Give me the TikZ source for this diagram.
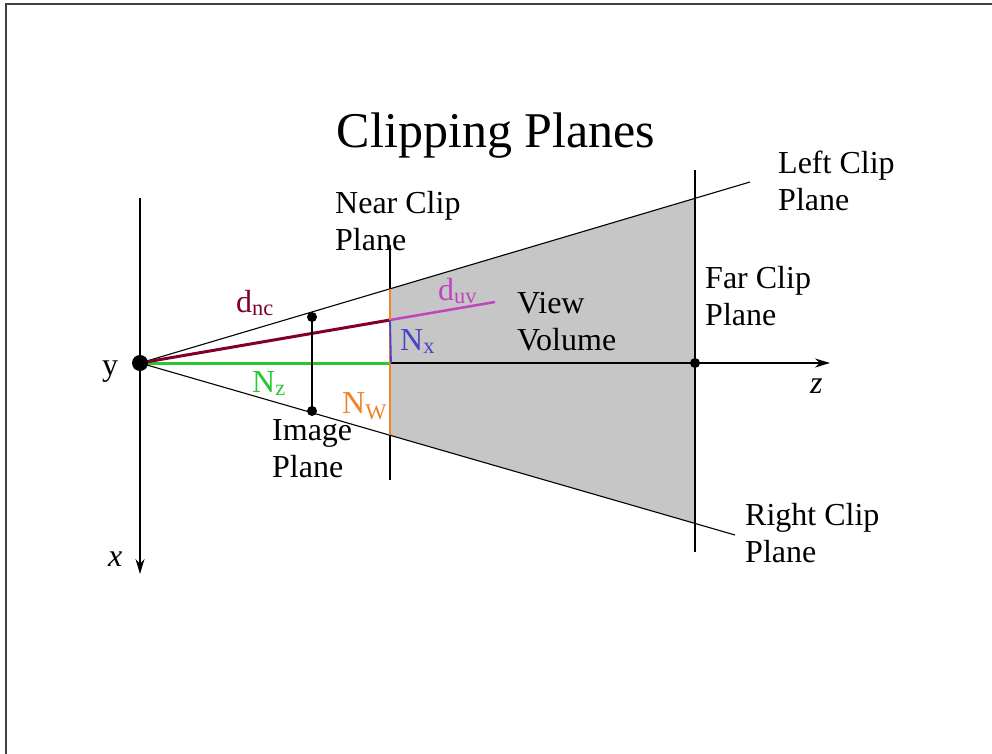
\documentclass[tikz,border=0pt]{standalone}
\usepackage{fontspec}
\setmainfont{Liberation Serif}
\usetikzlibrary{arrows.meta}
\definecolor{dnc}{RGB}{128,0,40}
\definecolor{duv}{RGB}{190,70,190}
\definecolor{nz}{RGB}{40,200,50}
\definecolor{nw}{RGB}{240,130,40}
\definecolor{nx}{RGB}{70,70,200}
\definecolor{vol}{RGB}{198,198,198}
\tikzset{
  lbl/.style={inner sep=0pt, anchor=base west, align=left, font=\fontsize{32}{37}\selectfont},
  sym/.style={inner sep=0pt, anchor=base west, font=\fontsize{32}{37}\selectfont},
  thin line/.style={line width=1.1pt, black},
  axis/.style={line width=1.6pt, black, -{Stealth[length=15pt,width=9pt]}},
  dotc/.style={circle, fill=black, inner sep=0pt, minimum size=10pt}
}
\begin{document}
\begin{tikzpicture}[x=1pt,y=-1pt]
\useasboundingbox (0,0) rectangle (992,754);
% frame
\draw[line width=2pt, black!75] (6,754) -- (6,4) -- (992,4);
% coordinates
\coordinate (eye) at (140,363);
\coordinate (ltop) at (390,288.8);
\coordinate (lbot) at (390,435.2);
\coordinate (ftop) at (695,198.3);
\coordinate (fbot) at (695,523.4);
\coordinate (lend) at (750,182);
\coordinate (rend) at (735,535);
% view volume
\fill[vol] (ltop) -- (ftop) -- (fbot) -- (lbot) -- cycle;
% frustum lines
\draw[thin line] (eye) -- (lend);
\draw[thin line] (eye) -- (rend);
% clip planes
\coordinate (n1) at (390,245); \coordinate (n2) at (390,480);
\draw[thin line] (n1) -- (n2);
\coordinate (f1) at (695,170); \coordinate (f2) at (695,552);
\draw[thin line] (f1) -- (f2);
% axes
\coordinate (xa) at (140,198); \coordinate (xb) at (140,574);
\draw[axis] (xa) -- (xb);
\coordinate (za) at (830,363);
\draw[axis] (eye) -- (za);
\node[dotc] (fardot) at (695,363) {};
% colored lines
\coordinate (nc) at (390,320);
\coordinate (nxb) at (391,363);
\coordinate (uvend) at (495,302);
\draw[line width=3pt, nz] (eye) -- (nxb);
\draw[line width=3pt, dnc] (eye) -- (nc);
\draw[line width=2.5pt, duv] (nc) -- (uvend);
\draw[line width=2.5pt, nw] (ltop) -- (lbot);
\draw[line width=1.8pt, nx] (nc) -- (nxb);
% image plane
\node[dotc] (ip1) at (312,317) {};
\node[dotc] (ip2) at (312,411) {};
\draw[thin line] (ip1.center) -- (ip2.center);
% eye dot
\node[circle, fill=black, inner sep=0pt, minimum size=16pt] (eyedot) at (eye) {};
% texts
\node[inner sep=0pt, anchor=base, font=\fontsize{50}{60}\selectfont] (title) at (496,148) {Clipping Planes};
\node[lbl] (near) at (335,250) {Near Clip\\Plane};
\node[lbl] (left) at (778,210) {Left Clip\\Plane};
\node[lbl] (far) at (705,325) {Far Clip\\Plane};
\node[lbl] (view) at (517,350) {View\\Volume};
\node[lbl] (right) at (745,562) {Right Clip\\Plane};
\node[lbl] (image) at (272,477) {Image\\Plane};
\node[sym] (ylbl) at (102,375) {y};
\node[sym] (xlbl) at (108,566) {\itshape x};
\node[sym] (zlbl) at (810,393) {\itshape z};
\node[sym, text=dnc] (dnclbl) at (236,312) {d\textsubscript{nc}};
\node[sym, text=duv] (duvlbl) at (438,300) {d\textsubscript{uv}};
\node[sym, text=nx] (nxlbl) at (400,350) {N\textsubscript{x}};
\node[sym, text=nz] (nzlbl) at (252,392) {N\textsubscript{z}};
\node[sym, text=nw] (nwlbl) at (342,413) {N\textsubscript{W}};
\end{tikzpicture}
\end{document}
